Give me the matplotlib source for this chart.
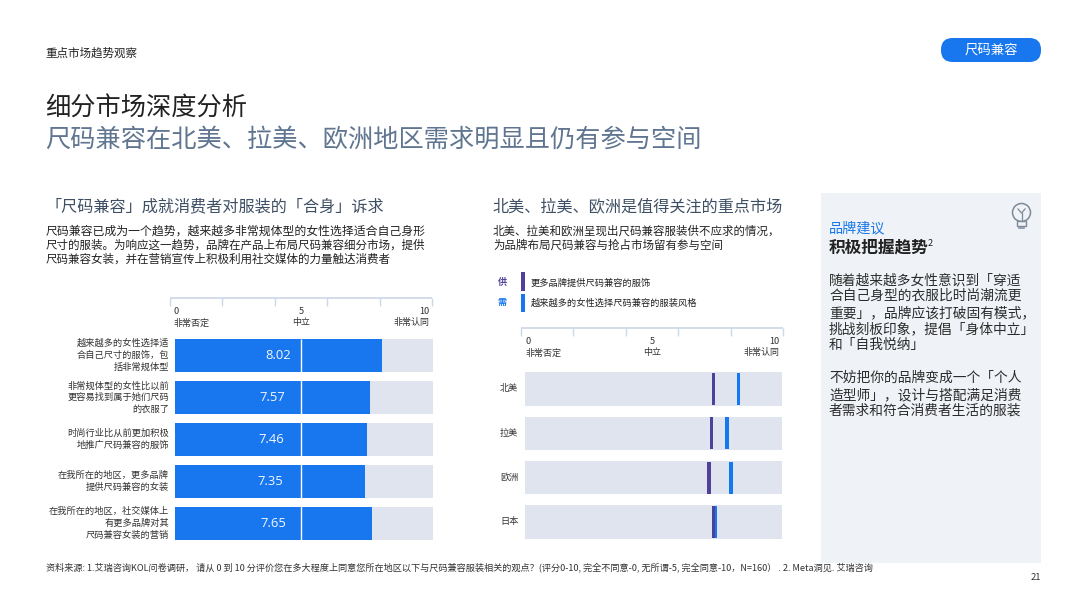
import matplotlib
matplotlib.use("Agg")
import matplotlib.pyplot as plt
from matplotlib.patches import FancyBboxPatch, Rectangle, Circle

plt.rcParams['font.family'] = ['Noto Sans CJK SC', 'DejaVu Sans']

W, H = 1080, 605
# ---- data ----
statements = ["越来越多的女性选择适\n合自己尺寸的服饰，包\n括非常规体型",
              "非常规体型的女性比以前\n更容易找到属于她们尺码\n的衣服了",
              "时尚行业比从前更加积极\n地推广尺码兼容的服饰",
              "在我所在的地区，更多品牌\n提供尺码兼容的女装",
              "在我所在的地区，社交媒体上\n有更多品牌对其\n尺码兼容女装的营销"]
scores = [8.02, 7.57, 7.46, 7.35, 7.65]
regions = ["北美", "拉美", "欧洲", "日本"]
supply = [7.33, 7.25, 7.15, 7.34]
demand = [8.30, 7.85, 8.01, 7.41]
scale_ticks = [0, 5, 10]
scale_labels = ["非常否定", "中立", "非常认同"]

BLUE = "#1877ee"
TRACK = "#dfe4ee"
PURPLE = "#4f4099"
DARK = "#222222"
GREY = "#5f7590"
RULE = "#cbd8e6"

fig = plt.figure(figsize=(W/100, H/100), dpi=100, facecolor="white")

def axpx(x0, y0, x1, y1, **kw):
    return fig.add_axes([x0/W, 1-y1/H, (x1-x0)/W, (y1-y0)/H], **kw)

bg = axpx(0, 0, W, H)
bg.set_xlim(0, W); bg.set_ylim(H, 0); bg.axis("off")

def T(x, y, s, size, color=DARK, ha="left", va="center", **kw):
    bg.text(x, y, s, fontsize=size, color=color, ha=ha, va=va, **kw)

# header
T(45, 53, "重点市场趋势观察", 8.3)
bg.add_patch(FancyBboxPatch((941, 38), 100, 24, boxstyle="round,pad=0,rounding_size=11.5",
                            fc=BLUE, ec=BLUE, lw=0))
T(991, 49.8, "尺码兼容", 9.6, color="white", ha="center")
T(45, 109, "细分市场深度分析", 18.2)
T(45, 140, "尺码兼容在北美、拉美、欧洲地区需求明显且仍有参与空间", 18.15, color=GREY)

# section heads
T(45.5, 207, "「尺码兼容」成就消费者对服装的「合身」诉求", 11.6, color="#3f4f63")
T(492.5, 207, "北美、拉美、欧洲是值得关注的重点市场", 11.6, color="#3f4f63")
for y, s, sz in zip([231, 245, 259],
                ["尺码兼容已成为一个趋势，越来越多非常规体型的女性选择适合自己身形",
                 "尺寸的服装。为响应这一趋势，品牌在产品上布局尺码兼容细分市场，提供",
                 "尺码兼容女装，并在营销宣传上积极利用社交媒体的力量触达消费者"],
                [8.55, 8.3, 8.3]):
    T(46, y, s, sz)
for y, s in zip([231, 245],
                ["北美、拉美和欧洲呈现出尺码兼容服装供不应求的情况，",
                 "为品牌布局尺码兼容与抢占市场留有参与空间"]):
    T(493, y, s, 8.25)

# legend
T(502, 282, "供", 6.5, color=PURPLE, ha="center", fontweight="bold")
T(502, 302, "需", 6.5, color=BLUE, ha="center", fontweight="bold")
bg.add_patch(Rectangle((521, 272), 3.5, 19, fc=PURPLE, lw=0))
bg.add_patch(Rectangle((521, 294), 3.5, 18, fc=BLUE, lw=0))
T(531, 283, "更多品牌提供尺码兼容的服饰", 6.65)
T(531, 303, "越来越多的女性选择尺码兼容的服装风格", 6.65)

# scale rulers
def ruler(x0, x1, y, lab_l, lab_m, lab_r):
    a = axpx(x0, y, x1, y+8)
    a.set_xlim(0, 5); a.set_ylim(1, 0); a.axis("off")
    a.hlines(0, 0, 5, color=RULE, lw=1.2, clip_on=False)
    a.vlines(range(6), 0, 1, color=RULE, lw=1.0, clip_on=False)
    for xx, txt, lab in zip((lab_l, lab_m, lab_r), scale_ticks, scale_labels):
        i = scale_ticks.index(txt)
        ha = ["left", "center", "right"][i]
        T(xx, y+14, str(txt), 6.6, ha=ha, color="#333333")
        T(xx, y+25, lab, 6.5, ha=ha, color="#333333")

ruler(170, 432, 298, 174, 301, 429)
ruler(521, 783, 328, 525, 652, 779)

# left chart
axL = axpx(175, 334.5, 433, 544.5)
axL.set_xlim(0, 10); axL.set_ylim(len(scores)-0.5, -0.5); axL.axis("off")
yL = list(range(len(scores)))
axL.barh(yL, [10]*len(scores), height=0.78, color=TRACK, lw=0)
axL.barh(yL, scores, height=0.78, color=BLUE, lw=0)
axL.vlines(4.89, -0.39, len(scores)-0.61, color="white", lw=1.0)
for y, v in zip(yL, scores):
    axL.text(v/2, y, f"{v:.2f}", color="#f4f8ff", fontsize=9.4, ha="center", va="center",
             family="Open Sans")
for i, lab in enumerate(statements):
    ylab = 355.5 + i*42
    T(169, ylab, lab, 6.65, ha="right", color="#333333", linespacing=1.38, multialignment="right")

# right chart
axR = axpx(525, 367, 782, 544)
axR.set_xlim(0, 10); axR.set_ylim(len(regions)-0.5, -0.5); axR.axis("off")
yR = list(range(len(regions)))
axR.barh(yR, [10]*len(regions), height=0.76, color=TRACK, lw=0)
axR.bar(demand, [0.72]*4, bottom=[y-0.36 for y in yR], width=0.14, color="#1478f0", lw=0, align="center")
axR.bar(supply, [0.72]*4, bottom=[y-0.36 for y in yR], width=0.14, color=PURPLE, lw=0, align="center")
for i, lab in enumerate(regions):
    T(509, 389 + i*44.2, lab, 6.6, ha="center", color="#333333")

# panel
bg.add_patch(Rectangle((821, 193), 220, 370, fc="#eff2f6", lw=0))
T(829, 228, "品牌建议", 10.2, color=BLUE, fontweight="medium")
T(829, 247, "积极把握趋势", 12, color=DARK, fontweight="bold")
T(927.5, 243.5, "2", 6.5, color=DARK)
for y, s in zip([280, 296, 313, 329, 345, 378, 395, 411],
                ["随着越来越多女性意识到「穿适",
                 "合自己身型的衣服比时尚潮流更",
                 "重要」，品牌应该打破固有模式，",
                 "挑战刻板印象，提倡「身体中立」",
                 "和「自我悦纳」",
                 "不妨把你的品牌变成一个「个人",
                 "造型师」，设计与搭配满足消费",
                 "者需求和符合消费者生活的服装"]):
    T(829, y, s, 9.9, color="#2b2b2b")

# bulb icon
ic = "#7c8a99"
bg.add_patch(Circle((1021.5, 212.5), 9, fc="none", ec=ic, lw=1.1))
bg.add_patch(Rectangle((1017, 221), 9, 5, fc="#eff2f6", ec=ic, lw=1.0))
bg.plot([1019, 1024], [228, 228], color=ic, lw=1.1)
bg.plot([1021.5, 1021.5], [221, 213], color=ic, lw=0.9)
bg.plot([1018, 1021.5, 1025], [209, 213, 209], color=ic, lw=0.9)

# footer
T(46, 568.5, "资料来源: 1.艾瑞咨询KOL问卷调研， 请从 0 到 10 分评价您在多大程度上同意您所在地区以下与尺码兼容服装相关的观点？(评分0-10, 完全不同意-0, 无所谓-5, 完全同意-10，N=160） . 2. Meta洞见. 艾瑞咨询",
  6.6, color="#333333")
T(1041, 577, "21", 6.8, ha="right", color="#333333")

fig.savefig("out.png", dpi=100)
